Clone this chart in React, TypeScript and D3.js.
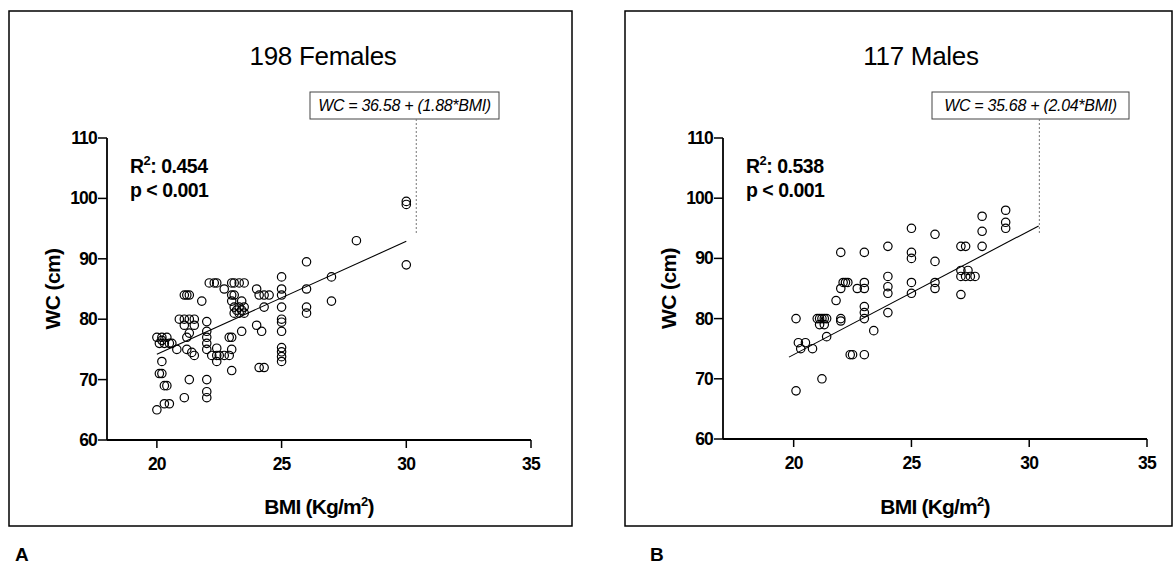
import * as d3 from 'd3'

const font = '"Liberation Sans", Arial, Helvetica, sans-serif'

// tick labels shared by both panels
const xTicks = [20, 25, 30, 35]
const yTicks = [60, 70, 80, 90, 100, 110]

// females (panel A)
const femaleBMI = [
  26, 27, 27, 25, 25, 25, 25, 25, 25, 25, 25, 25, 25, 25, 26, 26, 26,
  24.1, 24.3, 24.5, 24, 24.3, 24, 24.2, 24.1, 24.3, 23.4, 23, 22.9, 23, 23,
  23.1, 23.3, 23.5, 23.1, 23.3, 23.5, 23.2, 23.4, 23.4, 23, 23.1, 23, 22.7,
  22.1, 22.3, 22.4, 23, 23.1, 23.3, 23.5, 21.8, 21.1, 21.2, 21.3,
  20.9, 21.1, 21.3, 21.5, 21.1, 21.5, 22, 22, 22, 22, 22, 21.3, 21.2, 21.2, 21.4, 21.5,
  20.8, 20.6, 20, 20.2, 20.4, 20.1, 20.3, 20.5, 20.2, 20.2, 20.1, 20.2, 20.3, 20.4,
  21.3, 20.3, 20.5, 20, 21.1, 22, 22, 22, 22.2, 22.4, 22.5, 22.7, 22.9, 22.4, 22.4,
  30, 30, 28, 30
]
const femaleWC = [
  89.5, 87, 83, 87, 85, 84, 82, 80, 79.5, 78, 75.3, 74.6, 73.8, 73, 85, 82, 81,
  84, 84, 84, 85, 82, 79, 78, 72, 72, 78, 77, 77, 75, 71.5,
  82, 82, 82, 81, 81, 81, 81.5, 81.5, 83, 84, 84, 83, 85,
  86, 86, 86, 86, 86, 86, 86, 83, 84, 84, 84,
  80, 80, 80, 80, 79, 79, 79.6, 78, 77, 76, 75, 77.7, 77, 75, 74.5, 74,
  75, 76, 77, 77, 77, 76, 76, 76, 76.5, 73, 71, 71, 69, 69,
  70, 66, 66, 65, 67, 70, 68, 67, 74, 74, 74, 74, 74, 75.2, 73,
  99.5, 99, 93, 89
]

// males (panel B)
const maleBMI = [
  20.1, 20.1, 20.2, 20.3, 20.5, 20.8, 21.2, 21, 21.1, 21.2, 21.3, 21.4, 21.1, 21.3, 21.4,
  21.8, 22, 22, 22.1, 22.2, 22.3, 22, 22, 22.4, 22.5, 22.7, 23, 23, 23, 23, 23, 23, 23,
  23.4, 24, 24, 24, 24, 24, 25, 25, 25, 25, 25, 26, 26, 26, 26, 27.1, 27.3,
  28, 28, 28, 29, 29, 29, 27.1, 27.4, 27.1, 27.3, 27.5, 27.7, 27.1
]
const maleWC = [
  80, 68, 76, 75, 76, 75, 70, 80, 80, 80, 80, 80, 79, 79, 77,
  83, 91, 85, 86, 86, 86, 80, 79.6, 74, 74, 85, 91, 86, 85, 82, 81, 80, 74,
  78, 92, 87, 85.3, 84.2, 81, 95, 91, 90, 86, 84.2, 94, 89.5, 86, 85, 92, 92,
  97, 94.5, 92, 98, 96, 95, 88, 88, 87, 87, 87, 87, 84
]

// drawn regression lines (end points as they appear)
const femaleFit = [[20, 74.2], [30, 92.9]]
const maleFit = [[19.8, 73.6], [30.4, 95.4]]

const panels = [
  {
    key: 'A', title: '198 Females', eq: 'WC = 36.58 + (1.88*BMI)', r2: '0.454', p: 'p < 0.001',
    xLabel: 'BMI (Kg/m', bmi: femaleBMI, wc: femaleWC, fit: femaleFit, xMin: 18, leader: 30.4,
    frame: { x: 9, y: 11, w: 563, h: 515 }, plot: { l: 107, r: 531, t: 138, b: 440 },
    box: { x: 310, w: 189 }, titleX: 323, letterX: 15
  },
  {
    key: 'B', title: '117 Males', eq: 'WC = 35.68 + (2.04*BMI)', r2: '0.538', p: 'p < 0.001',
    xLabel: 'BMI  (Kg/m', bmi: maleBMI, wc: maleWC, fit: maleFit, xMin: 17, leader: 30.43,
    frame: { x: 625, y: 11, w: 547, h: 515 }, plot: { l: 723, r: 1147, t: 138, b: 439 },
    box: { x: 932, w: 197 }, titleX: 921, letterX: 650
  }
]

function Panel({ cfg }: { cfg: any }) {
  const { plot, frame, box } = cfg
  const x = d3.scaleLinear().domain([cfg.xMin, 35]).range([plot.l, plot.r])
  const y = d3.scaleLinear().domain([60, 110]).range([plot.b, plot.t])
  const line = d3.line<number[]>().x(d => x(d[0])).y(d => y(d[1]))
  const xMid = (plot.l + plot.r) / 2
  const yMid = (plot.t + plot.b) / 2

  return (
    <g>
      <rect x={frame.x} y={frame.y} width={frame.w} height={frame.h} fill='none' stroke='#000' strokeWidth={1.5} />
      <text x={cfg.titleX} y={65} textAnchor='middle' fontSize={26} letterSpacing={-0.3} fill='#000'>{cfg.title}</text>

      {/* equation box + dashed leader */}
      <rect x={box.x} y={92} width={box.w} height={27} fill='#fff' stroke='#444' strokeWidth={1} />
      <text x={box.x + box.w / 2} y={111} textAnchor='middle' fontSize={16} fontStyle='italic' letterSpacing={-0.3} fill='#000'>{cfg.eq}</text>
      <line x1={x(cfg.leader)} x2={x(cfg.leader)} y1={119} y2={y(94)} stroke='#777' strokeWidth={1} strokeDasharray='2,2' />

      {/* axes */}
      <line x1={plot.l} x2={plot.l} y1={plot.t} y2={plot.b} stroke='#000' strokeWidth={1.8} />
      <line x1={plot.l} x2={plot.r} y1={plot.b} y2={plot.b} stroke='#000' strokeWidth={1.8} />
      {yTicks.map(t =>
        <g key={'y' + t}>
          <line x1={plot.l - 9} x2={plot.l} y1={y(t)} y2={y(t)} stroke='#000' strokeWidth={1.5} />
          <text x={plot.l - 10} y={y(t) + 6} textAnchor='end' fontSize={17.5} fontWeight='bold' letterSpacing={-0.8} fill='#000'>{t}</text>
        </g>
      )}
      {xTicks.map(t =>
        <g key={'x' + t}>
          <line x1={x(t)} x2={x(t)} y1={plot.b} y2={plot.b + 8} stroke='#000' strokeWidth={1.5} />
          <text x={x(t)} y={plot.b + 30} textAnchor='middle' fontSize={17.5} fontWeight='bold' letterSpacing={-0.8} fill='#000'>{t}</text>
        </g>
      )}

      <text transform={`translate(${plot.l - 47}, ${yMid}) rotate(-90)`} textAnchor='middle' fontSize={21} fontWeight='bold' letterSpacing={-0.6} fill='#000'>WC (cm)</text>
      <text x={xMid} y={514} textAnchor='middle' fontSize={21} fontWeight='bold' letterSpacing={-0.8} fill='#000'>
        {cfg.xLabel}<tspan fontSize={13} dy={-8}>2</tspan><tspan dy={8}>)</tspan>
      </text>

      <text x={plot.l + 23} y={173} fontSize={19.5} fontWeight='bold' letterSpacing={-0.5} fill='#000'>
        R<tspan fontSize={13} dy={-8}>2</tspan><tspan dy={8}>: {cfg.r2}</tspan>
      </text>
      <text x={plot.l + 23} y={197} fontSize={19.5} fontWeight='bold' letterSpacing={-0.5} fill='#000'>{cfg.p}</text>

      <path d={line(cfg.fit) || ''} fill='none' stroke='#000' strokeWidth={1.1} />
      {cfg.bmi.map((b: number, i: number) =>
        <circle key={i} cx={x(b)} cy={y(cfg.wc[i])} r={4.2} fill='none' stroke='#000' strokeWidth={1.2} />
      )}

      <text x={cfg.letterX} y={561} fontSize={19} fontWeight='bold' fill='#000'>{cfg.key}</text>
    </g>
  )
}

export default function App() {
  return (
    <div style={{ position: 'absolute', left: 0, top: 0, background: '#fff' }}>
      <svg width={1174} height={569} style={{ display: 'block', fontFamily: font }}>
        <rect width={1174} height={569} fill='#fff' />
        {panels.map(p => <Panel key={p.key} cfg={p} />)}
      </svg>
    </div>
  )
}
